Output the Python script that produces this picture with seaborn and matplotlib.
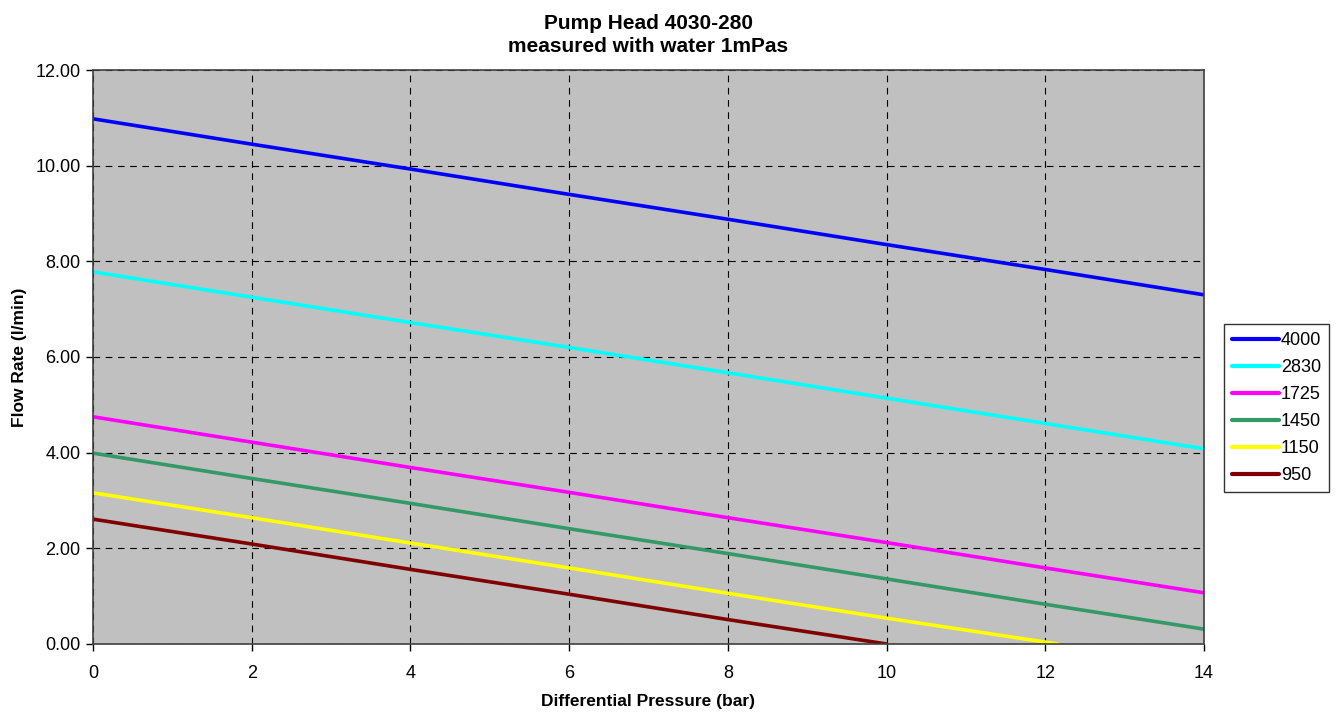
import matplotlib
matplotlib.use("Agg")
import matplotlib.pyplot as plt
import seaborn as sns
import pandas as pd

speeds = ["4000", "2830", "1725", "1450", "1150", "950"]
pressure = [0, 2, 4, 6, 8, 10, 12, 14]
flow_4000 = [10.98, 10.45, 9.93, 9.40, 8.88, 8.35, 7.83, 7.30]
flow_2830 = [7.78, 7.25, 6.72, 6.20, 5.67, 5.14, 4.61, 4.08]
flow_1725 = [4.75, 4.22, 3.69, 3.17, 2.64, 2.12, 1.59, 1.07]
flow_1450 = [3.99, 3.46, 2.94, 2.41, 1.89, 1.36, 0.83, 0.31]
pressure_1150 = [0, 2, 4, 6, 8, 10, 12, 12.16]
flow_1150 = [3.16, 2.64, 2.11, 1.59, 1.06, 0.54, 0.04, 0.0]
pressure_950 = [0, 2, 4, 6, 8, 10]
flow_950 = [2.61, 2.09, 1.56, 1.04, 0.51, 0.0]

colors = ["#0000FF", "#00FFFF", "#FF00FF", "#339966", "#FFFF00", "#800000"]

series = {
    "4000": (pressure, flow_4000),
    "2830": (pressure, flow_2830),
    "1725": (pressure, flow_1725),
    "1450": (pressure, flow_1450),
    "1150": (pressure_1150, flow_1150),
    "950": (pressure_950, flow_950),
}
rows = []
for s in speeds:
    xs, ys = series[s]
    for x, y in zip(xs, ys):
        rows.append({"Pressure": x, "Flow": y, "Speed": s})
df = pd.DataFrame(rows)

sns.set_style("white")
plt.rcParams["font.family"] = ["Liberation Sans", "DejaVu Sans"]
plt.rcParams["text.color"] = "black"
plt.rcParams["axes.labelcolor"] = "black"

fig = plt.figure(figsize=(13.36, 7.16), dpi=100)
ax = fig.add_axes([0.0696, 0.1006, 0.8316, 0.8016])
ax.set_facecolor("#C0C0C0")

sns.lineplot(data=df, x="Pressure", y="Flow", hue="Speed", hue_order=speeds,
             palette=colors, linewidth=2.6, ax=ax, sort=False, estimator=None)

ax.set_xlim(0, 14)
ax.set_ylim(0, 12)
ax.set_xticks(range(0, 15, 2))
ax.set_yticks(range(0, 13, 2))
ax.set_yticklabels([f"{v:.2f}" for v in range(0, 13, 2)])
ax.tick_params(axis="both", labelsize=13, colors="black", direction="out",
               length=5, width=1, left=True, bottom=True)
ax.tick_params(axis="x", pad=10)
ax.tick_params(axis="y", pad=4)
ax.grid(True, color="black", linestyle=(0, (6, 5)), linewidth=0.8)
for sp in ax.spines.values():
    sp.set_color("#404040")
    sp.set_linewidth(1.2)
    sp.set_visible(True)

ax.set_xlabel("Differential Pressure (bar)", fontsize=12.5, fontweight="bold", labelpad=9)
ax.set_ylabel("Flow Rate (l/min)", fontsize=12.5, fontweight="bold", labelpad=6)
ax.set_title("Pump Head 4030-280\nmeasured with water 1mPas", fontsize=15,
             fontweight="bold", pad=13, linespacing=1.25, color="black")

leg = ax.legend(loc="center left", bbox_to_anchor=(0.916, 0.43),
                bbox_transform=fig.transFigure, frameon=True, fancybox=False,
                edgecolor="black", fontsize=13, handlelength=2.6,
                handletextpad=0.1, borderpad=0.45, labelspacing=0.55,
                borderaxespad=0)
leg.get_frame().set_linewidth(1.0)
for line in leg.get_lines():
    line.set_linewidth(3)
for t in leg.get_texts():
    t.set_color("black")

fig.savefig("out.png", dpi=100)
